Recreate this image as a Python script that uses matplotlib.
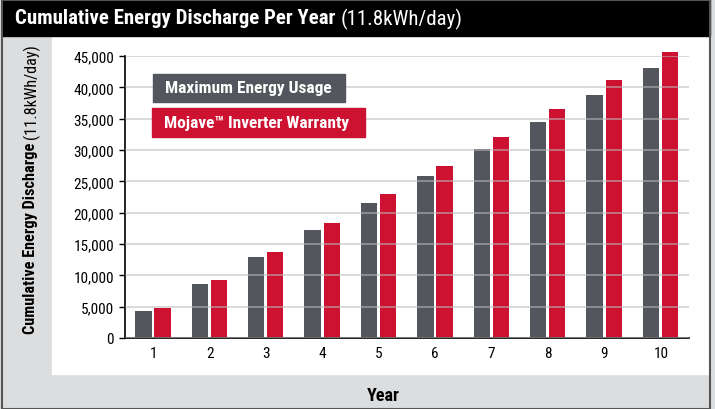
import matplotlib
matplotlib.use("Agg")
import matplotlib.pyplot as plt
from matplotlib.patches import Rectangle
from matplotlib import font_manager
import numpy as np

years = [1, 2, 3, 4, 5, 6, 7, 8, 9, 10]
max_usage = [4300, 8600, 12900, 17200, 21500, 25800, 30100, 34400, 38700, 43100]
warranty = [4800, 9200, 13700, 18400, 22900, 27500, 32100, 36600, 41200, 45700]
yticks = [0, 5000, 10000, 15000, 20000, 25000, 30000, 35000, 40000, 45000]
legend_labels = ["Maximum Energy Usage", "Mojave\u2122 Inverter Warranty"]

GRAY = "#53565c"
RED = "#cc1230"
FRAME = "#dcdddf"

installed = {f.name for f in font_manager.fontManager.ttflist}
FONT = [f for f in ["Roboto Condensed", "Liberation Sans Narrow", "Liberation Sans"] if f in installed]
FONT.append("DejaVu Sans")
plt.rcParams["font.family"] = FONT

W, H = 715, 410
fig = plt.figure(figsize=(W / 100, H / 100), dpi=100, facecolor=FRAME)


def px(x0, y0, x1, y1):
    # pixel box (top-left origin) -> figure fraction rectangle args
    return (x0 / W, 1 - y1 / H), (x1 - x0) / W, (y1 - y0) / H


# white panel, header bar and outer border
xy, w, h = px(52, 36, 708, 375)
fig.patches.append(Rectangle(xy, w, h, transform=fig.transFigure, color="white", zorder=-2))
xy, w, h = px(2, 0, 710, 37)
fig.patches.append(Rectangle(xy, w, h, transform=fig.transFigure, color="black", zorder=1))
xy, w, h = px(2, 1, 710, 410)
fig.patches.append(Rectangle(xy, w, h, transform=fig.transFigure, fill=False,
                             edgecolor="#555555", linewidth=1.5, zorder=2))

ax = fig.add_axes([125 / W, 1 - 339 / H, (689 - 125) / W, (339 - 57) / H])
ax.set_facecolor("none")

x = np.array(years)
ax.bar(x - 0.175, max_usage, width=0.29, color=GRAY, zorder=2)
ax.bar(x + 0.165, warranty, width=0.29, color=RED, zorder=2, clip_on=False)

ax.set_xlim(0.5, 10.5)
ax.set_ylim(0, 45000)
ax.set_yticks(yticks)
ax.set_yticklabels([f"{v:,}" for v in yticks])
ax.set_xticks(years)
ax.tick_params(axis="y", length=4, width=1, labelsize=11, pad=4)
ax.tick_params(axis="x", length=0, labelsize=11, pad=6)
ax.grid(axis="y", color="#bbbbbb", alpha=0.6, linewidth=1.3, zorder=3)
ax.set_axisbelow(False)

for side in ["top", "right"]:
    ax.spines[side].set_visible(False)
ax.spines["left"].set_linewidth(1.2)
ax.spines["bottom"].set_linewidth(1.2)

renderer = fig.canvas.get_renderer()

# title in header: bold part then normal part right after it
t1 = fig.text(15 / W, 1 - 19 / H, "Cumulative Energy Discharge Per Year", color="white",
              fontsize=15, fontweight="bold", va="center", ha="left", zorder=3)
bb = t1.get_window_extent(renderer)
fig.text((bb.x1 + 5) / W, 1 - 19 / H, "(11.8kWh/day)", color="white",
         fontsize=15, va="center", ha="left", zorder=3)

# y label: bold part from bottom, normal part above it
t2 = fig.text(31 / W, 1 - 334 / H, "Cumulative Energy Discharge", rotation=90,
              fontsize=11.7, fontweight="bold", ha="center", va="bottom")
bb = t2.get_window_extent(renderer)
fig.text(31 / W, (bb.y1 + 4) / H, "(11.8kWh/day)", rotation=90,
         fontsize=11.7, ha="center", va="bottom")
fig.text(383 / W, 1 - 396 / H, "Year", fontsize=13, fontweight="bold",
         ha="center", va="center")

# legend boxes
for label, color, (x0, y0, x1, y1) in zip(
        legend_labels, [GRAY, RED], [(153, 75, 345, 103), (152, 109, 365, 138)]):
    xy, w, h = px(x0, y0, x1, y1)
    fig.patches.append(Rectangle(xy, w, h, transform=fig.transFigure, color=color, zorder=5))
    fig.text((x0 + 12) / W, 1 - (y0 + y1) / 2 / H, label, color="white",
             fontsize=12.5, fontweight="bold", ha="left", va="center", zorder=6)

fig.savefig("out.png", dpi=100, facecolor=FRAME)
